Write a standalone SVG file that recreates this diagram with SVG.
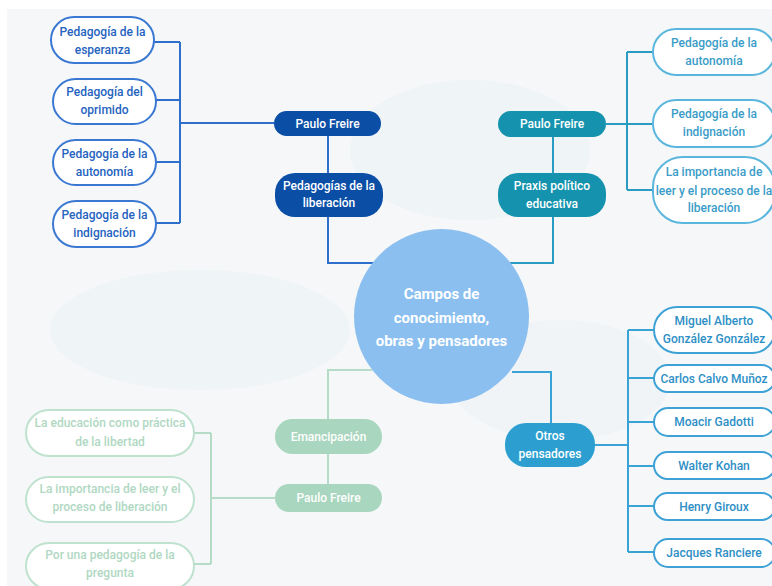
<svg xmlns="http://www.w3.org/2000/svg" width="772" height="586" viewBox="0 0 772 586">
  <style>
    text { font-family: Roboto, "Liberation Sans", sans-serif; font-size: 12px; font-weight: 500; text-anchor: middle; }
    .ln { fill: none; stroke-width: 2; }
    .blue-ln { stroke: #2f6fcc; }
    .teal-ln { stroke: #2a9cc4; }
    .sky-ln { stroke: #3aa3d6; }
    .green-ln { stroke: #b4dcc6; }
    .out-blue { fill: #ffffff; stroke: #3a78d2; stroke-width: 2; }
    .out-blue-t { fill: #2563c0; }
    .out-teal { fill: #ffffff; stroke: #5ab6dc; stroke-width: 2; }
    .out-teal-t { fill: #3a9cc8; }
    .out-sky { fill: #ffffff; stroke: #3ea2d6; stroke-width: 2; }
    .out-sky-t { fill: #2e8fc6; }
    .out-green { fill: #ffffff; stroke: #bfe2cf; stroke-width: 2; }
    .out-green-t { fill: #b0d8c2; }
    .pill-t { fill: #ffffff; }
  </style>

  <!-- page background -->
  <rect x="0" y="0" width="772" height="586" fill="#ffffff"/>
  <rect x="7" y="9" width="765" height="577" fill="#f5f7f9"/>
  <g fill="#e4edf3">
    <ellipse cx="470" cy="150" rx="120" ry="70" opacity="0.35"/>
    <ellipse cx="200" cy="330" rx="150" ry="60" opacity="0.35"/>
    <ellipse cx="560" cy="380" rx="110" ry="60" opacity="0.3"/>
  </g>

  <!-- connectors -->
  <g id="connectors">
    <!-- top-left branch -->
    <path class="ln blue-ln" d="M375,263 H328 V217 M328,173 V136 M274,123 H180 M180,42 V223 M154,42 H180 M156,100 H180 M156,162 H180 M156,223 H180"/>
    <!-- top-right branch -->
    <path class="ln teal-ln" d="M510,263 H553 V217 M553,173 V137 M606,124 H653 M627,52 V190 M627,52 H653 M627,190 H653"/>
    <!-- bottom-right branch -->
    <path class="ln sky-ln" d="M512,372 H551 V423 M595,445 H628 M628,330 V552 M628,330 H654 M628,378 H654 M628,422 H654 M628,466 H654 M628,506 H654 M628,552 H654"/>
    <!-- bottom-left branch -->
    <path class="ln green-ln" d="M372,370 H328 V419 M328,454 V484 M275,498 H211 M211,433 V564 M194,433 H211 M194,564 H211"/>
  </g>

  <!-- central topic -->
  <g id="center">
    <circle cx="441.5" cy="316.5" r="87.5" fill="#8bbff0"/>
    <text x="441.5" y="299" class="pill-t" style="font-size:15px;font-weight:bold">Campos de</text>
    <text x="441.5" y="323" class="pill-t" style="font-size:15px;font-weight:bold">conocimiento,</text>
    <text x="441.5" y="346" class="pill-t" style="font-size:15px;font-weight:bold">obras y pensadores</text>
  </g>

  <!-- top-left: Paulo Freire / Pedagogías de la liberación -->
  <g id="pf-left">
    <rect x="274" y="111" width="107" height="25" rx="12.5" fill="#0a4ea6"/>
    <text x="327.5" y="128" class="pill-t">Paulo Freire</text>
  </g>
  <g id="pedagogias-liberacion">
    <rect x="275" y="173" width="108" height="44" rx="20" fill="#0a4ea6"/>
    <text x="329" y="190" class="pill-t">Pedagogías de la</text>
    <text x="329" y="207" class="pill-t">liberación</text>
  </g>
  <g id="ped-esperanza">
    <rect x="51" y="17" width="103" height="46" rx="23" class="out-blue"/>
    <text x="102.5" y="36" class="out-blue-t">Pedagogía de la</text>
    <text x="102.5" y="54" class="out-blue-t">esperanza</text>
  </g>
  <g id="ped-oprimido">
    <rect x="53" y="79" width="103" height="45" rx="22.5" class="out-blue"/>
    <text x="104.5" y="96" class="out-blue-t">Pedagogía del</text>
    <text x="104.5" y="114" class="out-blue-t">oprimido</text>
  </g>
  <g id="ped-autonomia-l">
    <rect x="53" y="140" width="103" height="45" rx="22.5" class="out-blue"/>
    <text x="104.5" y="158" class="out-blue-t">Pedagogía de la</text>
    <text x="104.5" y="176" class="out-blue-t">autonomía</text>
  </g>
  <g id="ped-indignacion-l">
    <rect x="53" y="201" width="103" height="46" rx="23" class="out-blue"/>
    <text x="104.5" y="219" class="out-blue-t">Pedagogía de la</text>
    <text x="104.5" y="237" class="out-blue-t">indignación</text>
  </g>

  <!-- top-right: Paulo Freire / Praxis político educativa -->
  <g id="pf-right">
    <rect x="498" y="111" width="108" height="26" rx="13" fill="#1593ae"/>
    <text x="552" y="128" class="pill-t">Paulo Freire</text>
  </g>
  <g id="praxis">
    <rect x="498" y="173" width="108" height="44" rx="20" fill="#1593ae"/>
    <text x="552" y="190" class="pill-t">Praxis político</text>
    <text x="552" y="208" class="pill-t">educativa</text>
  </g>
  <g id="ped-autonomia-r">
    <rect x="653" y="29" width="122" height="46" rx="23" class="out-teal"/>
    <text x="714" y="47" class="out-teal-t">Pedagogía de la</text>
    <text x="714" y="65" class="out-teal-t">autonomía</text>
  </g>
  <g id="ped-indignacion-r">
    <rect x="653" y="100" width="122" height="47" rx="23" class="out-teal"/>
    <text x="714" y="118" class="out-teal-t">Pedagogía de la</text>
    <text x="714" y="136" class="out-teal-t">indignación</text>
  </g>
  <g id="importancia-leer-r">
    <rect x="653" y="157" width="122" height="66" rx="30" class="out-teal"/>
    <text x="714" y="176" class="out-teal-t">La importancia de</text>
    <text x="714" y="195" class="out-teal-t">leer y el proceso de la</text>
    <text x="714" y="212" class="out-teal-t">liberación</text>
  </g>

  <!-- bottom-right: Otros pensadores -->
  <g id="otros">
    <rect x="505" y="423" width="90" height="44" rx="21" fill="#2c9fd0"/>
    <text x="550" y="440" class="pill-t">Otros</text>
    <text x="550" y="458" class="pill-t">pensadores</text>
  </g>
  <g id="gonzalez">
    <rect x="654" y="307" width="121" height="46" rx="23" class="out-sky"/>
    <text x="714" y="325" class="out-sky-t">Miguel Alberto</text>
    <text x="714" y="343" class="out-sky-t">González González</text>
  </g>
  <g id="calvo">
    <rect x="654" y="365" width="121" height="27" rx="13.5" class="out-sky"/>
    <text x="714" y="383" class="out-sky-t">Carlos Calvo Muñoz</text>
  </g>
  <g id="gadotti">
    <rect x="654" y="408" width="121" height="28" rx="14" class="out-sky"/>
    <text x="714" y="426" class="out-sky-t">Moacir Gadotti</text>
  </g>
  <g id="kohan">
    <rect x="654" y="452" width="121" height="27" rx="13.5" class="out-sky"/>
    <text x="714" y="470" class="out-sky-t">Walter Kohan</text>
  </g>
  <g id="giroux">
    <rect x="654" y="493" width="121" height="27" rx="13.5" class="out-sky"/>
    <text x="714" y="511" class="out-sky-t">Henry Giroux</text>
  </g>
  <g id="ranciere">
    <rect x="654" y="539" width="121" height="28" rx="14" class="out-sky"/>
    <text x="714" y="557" class="out-sky-t">Jacques Ranciere</text>
  </g>

  <!-- bottom-left: Emancipación / Paulo Freire -->
  <g id="emancipacion">
    <rect x="275" y="419" width="107" height="35" rx="17.5" fill="#a9d6be"/>
    <text x="328.5" y="441" class="pill-t">Emancipación</text>
  </g>
  <g id="pf-bottom">
    <rect x="275" y="484" width="107" height="28" rx="14" fill="#a9d6be"/>
    <text x="328.5" y="502" class="pill-t">Paulo Freire</text>
  </g>
  <g id="educacion-libertad">
    <rect x="26" y="410" width="168" height="46" rx="23" class="out-green"/>
    <text x="110" y="427" class="out-green-t">La educación como práctica</text>
    <text x="110" y="446" class="out-green-t">de la libertad</text>
  </g>
  <g id="importancia-leer-l">
    <rect x="26" y="477" width="168" height="45" rx="22.5" class="out-green"/>
    <text x="110" y="493" class="out-green-t">La importancia de leer y el</text>
    <text x="110" y="511" class="out-green-t">proceso de liberación</text>
  </g>
  <g id="pedagogia-pregunta">
    <rect x="26" y="543" width="168" height="46" rx="23" class="out-green"/>
    <text x="110" y="559" class="out-green-t">Por una pedagogía de la</text>
    <text x="110" y="577" class="out-green-t">pregunta</text>
  </g>
</svg>
